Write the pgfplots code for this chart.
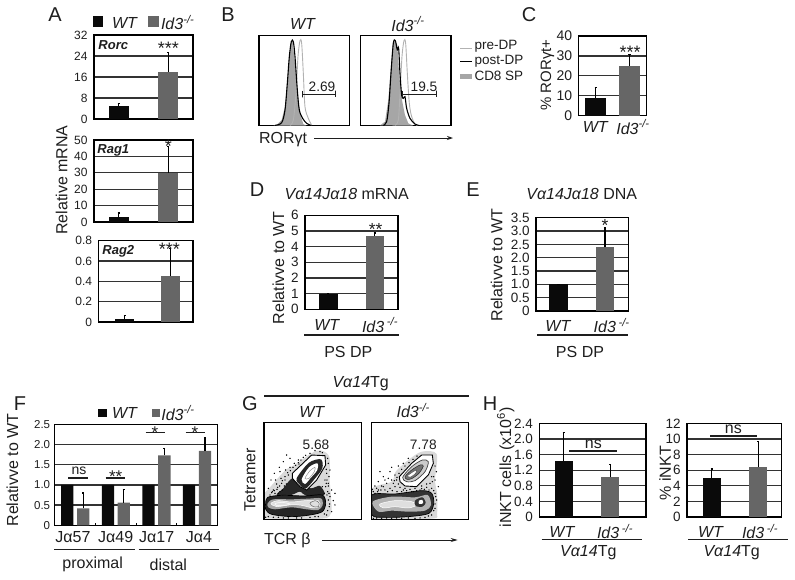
\documentclass[border=0pt]{standalone}
\usepackage{pgfplots}
\pgfplotsset{compat=1.18}
\usepackage{fontspec}
\setmainfont{Liberation Sans}
\usetikzlibrary{arrows.meta}
\definecolor{wtc}{HTML}{0A0A0A}
\definecolor{koc}{HTML}{666666}
\definecolor{txt}{HTML}{1E1E1E}
\definecolor{gridc}{HTML}{333333}
\newcommand\fs[1]{\fontsize{#1}{#1}\selectfont}
\newcommand\ido{\textit{Id3}\textsuperscript{\textit{-/-}}}
\newcommand\idos{\textit{Id3}\,\textsuperscript{\textit{-/-}}}
\newcommand\bars[4]{%
  \addplot[fill=wtc,draw=none,error bars/.cd,y dir=plus,y explicit,error bar style={black,line width=1.2pt},error mark options={rotate=90,black,mark size=1.1pt,line width=1.1pt}] coordinates {(0,#1) +- (0,#2)};
  \addplot[fill=koc,draw=none,error bars/.cd,y dir=plus,y explicit,error bar style={black,line width=1.2pt},error mark options={rotate=90,black,mark size=1.1pt,line width=1.1pt}] coordinates {(1,#3) +- (0,#4)};}
\pgfplotsset{
  panel/.style={scale only axis,anchor=south west,ymin=0,xtick=\empty,
    ymajorgrids,grid style={gridc,line width=1.25pt},
    axis line style={black,line width=1.3pt},
    ytick style={draw=none},ytick align=outside,
    yticklabel style={text=txt,inner sep=0pt,xshift=-2pt}},
  one/.style={panel,ybar,bar shift=0pt,bar width=#1,xmin=-0.5,xmax=1.5},
  hist/.style={scale only axis,anchor=south west,xtick=\empty,ytick=\empty,y dir=reverse,
    axis line style={black,line width=1.3pt},ymin=106,ymax=377},
  flow/.style={scale only axis,anchor=south west,xtick=\empty,ytick=\empty,y dir=reverse,
    axis line style={black,line width=1.2pt},ymin=128,ymax=418,axis on top},
  cd8/.style={fill=gray!70,draw=none},
  post/.style={black,line width=1.1pt,smooth,no marks},
  pre/.style={gray!60,line width=0.9pt,smooth,no marks},
  dots/.style={only marks,mark=*,mark size=0.45pt,black,mark options={draw=none,fill=black!90}},
}
\begin{document}
\begin{tikzpicture}
\useasboundingbox (0,0) rectangle (795pt,-579pt);
% ---------- A
\begin{axis}[one=20pt,at={(94pt,-119pt)},width=99pt,height=84pt,ymax=32,ytick={0,8,16,24,32},yticklabels={0,8,16,24,32},yticklabel style={font=\fs{12}}]
\bars{4.8}{1}{18}{7.3}
\end{axis}
\begin{axis}[one=20pt,at={(94pt,-222pt)},width=99pt,height=82pt,ymax=50,ytick={0,10,20,30,40,50},yticklabels={0,10,20,30,40,50},yticklabel style={font=\fs{12}}]
\bars{3.3}{2.2}{30}{16}
\end{axis}
\begin{axis}[one=19pt,at={(98.5pt,-322pt)},width=94.5pt,height=81.5pt,xmin=-0.58,xmax=1.5,ymax=0.8,ytick={0,0.2,0.4,0.6,0.8},yticklabels={0,0.2,0.4,0.6,0.8},yticklabel style={font=\fs{12}}]
\bars{0.03}{0.03}{0.45}{0.27}
\end{axis}
% ---------- B
\begin{axis}[hist,at={(259pt,-125.7pt)},width=90.3pt,height=90.4pt,xmin=57,xmax=328]
\addplot[cd8] coordinates {(100,377)(110,375)(125,360)(135,320)(142,240)(148,170)(153,125)(158,125)(165,190)(172,270)(180,340)(190,372)(200,377)} -- cycle;
\addplot[pre] coordinates {(150,376)(160,360)(168,280)(174,170)(180,122)(185,130)(190,220)(195,320)(205,355)(215,375)};
\addplot[post] coordinates {(105,376)(125,368)(135,330)(142,250)(148,170)(154,125)(160,125)(165,170)(172,270)(178,330)(188,355)(200,370)(213,376)};
\addplot[txt,line width=0.9pt] coordinates {(186,272)(186,292)(186,283)(285,283)(285,272)(285,292)};
\end{axis}
\begin{axis}[hist,at={(360.3pt,-125.7pt)},width=90.7pt,height=90.4pt,xmin=361,xmax=633]
\addplot[cd8] coordinates {(420,376)(435,365)(445,300)(452,210)(458,135)(465,122)(472,135)(478,230)(486,300)(495,345)(505,370)(520,377)} -- cycle;
\addplot[pre] coordinates {(465,376)(475,360)(480,280)(486,170)(492,122)(497,130)(502,220)(508,310)(515,350)(525,372)(535,377)};
\addplot[post] coordinates {(430,376)(440,365)(447,310)(453,220)(460,130)(466,122)(472,150)(476,145)(480,220)(485,285)(490,295)(495,290)(500,325)(510,355)(525,372)(540,377)};
\addplot[txt,line width=0.9pt] coordinates {(488,272)(488,292)(488,282)(589,282)(589,272)(589,292)};
\end{axis}
% ---------- C
\begin{axis}[panel,ybar,bar shift=0pt,bar width=21pt,at={(578.7pt,-115.7pt)},width=68pt,height=79.7pt,xmin=-0.503,xmax=1.509,ymax=40,ytick={0,10,20,30,40},yticklabels={0,10,20,30,40},yticklabel style={font=\fs{14}}]
\bars{9}{5}{25}{5.5}
\end{axis}
% ---------- D
\begin{axis}[one=18.5pt,at={(305pt,-309.3pt)},width=93pt,height=94pt,ymax=6,ytick={0,1,2,3,4,5,6},yticklabels={0,1,2,3,4,5,6},yticklabel style={font=\fs{13.5}}]
\bars{1}{0}{4.7}{0.17}
\end{axis}
% ---------- E
\begin{axis}[one=18.5pt,at={(536pt,-311pt)},width=92.3pt,height=93.3pt,xmin=-0.484,ymax=3.5,ytick={0,0.5,1,1.5,2,2.5,3,3.5},yticklabels={0,0.5,1.0,1.5,2.0,2.5,3.0,3.5},yticklabel style={font=\fs{13.5}}]
\bars{1}{0}{2.4}{0.72}
\end{axis}
% ---------- F
\begin{axis}[panel,ybar=3.6pt,bar width=12.3pt,at={(54.3pt,-525.3pt)},width=163.4pt,height=101pt,xmin=-0.517,xmax=3.51,ymax=2.5,ytick={0,0.5,1,1.5,2,2.5},yticklabels={0,0.5,1.0,1.5,2.0,2.5},yticklabel style={font=\fs{11.5}},xtick={0.5,1.5,2.5},xticklabels={},xtick pos=bottom,xtick align=inside,major tick length=2pt,xtick style={black,line width=0.6pt}]
\addplot[fill=wtc,draw=none] coordinates {(0,1)(1,1)(2,1)(3,1)};
\addplot[fill=koc,draw=none,error bars/.cd,y dir=plus,y explicit,error bar style={black,line width=1.2pt},error mark options={rotate=90,black,mark size=1.1pt,line width=1.1pt}] coordinates {(0,0.42) +- (0,0.38) (1,0.56) +- (0,0.32) (2,1.73) +- (0,0.17) (3,1.84) +- (0,0.33)};
\end{axis}
% ---------- G
\begin{axis}[flow,at={(264pt,-519.3pt)},width=97.3pt,height=96.6pt,xmin=87,xmax=379]
\addplot[fill=gray!30,draw=none,smooth cycle] coordinates {(88,345)(105,322)(150,272)(178,255)(245,212)(282,228)(284,300)(288,350)(288,400)(260,416)(100,416)(88,410)};
\addplot[dots] coordinates {(115,330)(128,322)(140,310)(150,300)(120,340)(135,335)(160,285)(148,318)(105,345)(112,335)(125,312)(138,295)(152,270)(165,262)(178,250)(190,240)(280,310)(290,330)(285,350)(278,335)(295,362)(283,380)(290,395)(275,405)(262,320)(270,300)(282,290)(255,215)(240,212)(205,232)(192,252)(100,325)(108,300)(118,280)(133,262)(145,245)(240,410)(200,414)(160,414)(130,412)(100,410)(92,412)(300,375)(300,340)(275,280)(285,270)(165,235)(155,225)(122,300)(135,275)(110,338)(118,332)(126,328)(134,318)(142,302)(150,290)(158,278)(166,272)(174,262)(182,256)(190,248)(130,340)(142,330)(154,312)(272,320)(276,345)(280,360)(284,372)(278,392)(268,402)(250,410)(225,412)(185,414)(145,414)(115,412)(274,310)(268,340)(282,340)(276,300)(280,318)(274,268)(280,250)(278,235)(262,218)(225,220)(212,226)(198,240)};
\addplot[fill=black!85,draw=none,smooth cycle] coordinates {(125,345)(145,325)(172,295)(200,315)(228,325)(255,318)(268,345)(215,348)(195,335)(168,345)};
\addplot[fill=black!85,draw=black,line width=0.7pt,smooth cycle] coordinates {(92,370)(98,352)(140,346)(210,348)(262,345)(272,370)(262,395)(225,405)(170,410)(110,403)(92,388)};
\addplot[fill=gray!70,draw=none,smooth cycle] coordinates {(98,370)(115,358)(170,358)(220,356)(258,355)(263,375)(250,390)(215,388)(170,382)(120,388)(100,382)};
\addplot[fill=gray!25,draw=white,line width=0.5pt,smooth cycle] coordinates {(108,370)(130,362)(170,366)(210,362)(250,362)(254,378)(235,384)(200,376)(170,374)(125,380)};
\addplot[draw=white,line width=0.5pt,smooth cycle] coordinates {(120,371)(140,367)(165,372)(150,376)(125,376)};
\addplot[draw=black!60,line width=0.5pt,smooth cycle] coordinates {(225,370)(240,362)(252,368)(250,380)(235,380)};
\addplot[draw=black,fill=white,line width=0.9pt] coordinates {(172,280)(230,225)(270,227)(272,255)(245,300)(215,330)(195,320)(172,295)} -- cycle;
\addplot[fill=black!85,draw=none,smooth cycle] coordinates {(185,295)(222,248)(258,238)(262,265)(238,298)(212,326)(195,315)};
\addplot[fill=white,draw=none,smooth cycle] coordinates {(200,298)(222,262)(247,250)(247,270)(226,295)(210,312)};
\addplot[draw=black!50,line width=0.4pt,smooth cycle] coordinates {(210,295)(225,272)(240,262)(238,275)(222,295)};
\end{axis}
\begin{axis}[flow,at={(371.3pt,-519.3pt)},width=97.4pt,height=96.6pt,xmin=409,xmax=701]
\addplot[fill=gray!30,draw=none,smooth cycle] coordinates {(410,328)(470,305)(482,275)(520,240)(560,215)(605,222)(600,300)(606,340)(606,400)(590,416)(410,416)};
\addplot[dots] coordinates {(415,335)(425,325)(440,318)(455,310)(470,300)(480,285)(465,275)(445,290)(430,305)(420,318)(450,330)(465,325)(480,320)(495,322)(510,325)(525,328)(540,325)(560,318)(575,322)(590,325)(600,340)(605,360)(600,385)(590,405)(570,412)(540,415)(500,415)(470,415)(440,415)(415,415)(475,310)(490,312)(505,330)(450,300)(435,275)(470,262)(490,258)(505,250)(520,235)(600,300)(610,320)(590,290)(585,310)(485,300)(460,295)(500,335)(535,335)(555,330)(430,330)(445,320)(420,340)(412,328)(428,335)(438,330)(458,335)(472,332)(486,335)(515,332)(545,332)(568,328)(582,330)(596,332)(602,350)(600,372)(596,392)(580,408)(555,414)(520,414)(485,414)(455,414)(425,414)(478,302)(486,292)(492,280)(500,268)(510,258)(522,248)(534,238)(546,228)(600,258)(604,275)(596,290)(592,305)(575,312)(560,326)(530,335)};
\addplot[fill=black!80,draw=black,line width=0.7pt,smooth cycle] coordinates {(411,345)(480,342)(560,332)(590,340)(596,370)(582,400)(520,410)(450,412)(411,405)};
\addplot[fill=gray!60,draw=none,smooth cycle] coordinates {(413,365)(470,350)(540,352)(578,345)(588,375)(570,392)(520,395)(470,392)(430,395)};
\addplot[fill=gray!25,draw=white,line width=0.5pt,smooth cycle] coordinates {(435,372)(480,362)(530,365)(545,375)(520,384)(480,380)(445,384)};
\addplot[fill=black!80,draw=none,smooth cycle] coordinates {(540,362)(562,352)(572,368)(562,380)(542,378)};
\addplot[fill=white,draw=none,smooth cycle] coordinates {(552,362)(562,360)(564,370)(552,372)};
\addplot[draw=black,fill=white,line width=0.9pt] coordinates {(493,290)(530,250)(560,225)(592,225)(595,250)(580,285)(545,320)(510,318)(495,305)} -- cycle;
\addplot[draw=black!75,fill=gray!40,line width=0.7pt,smooth cycle] coordinates {(503,292)(530,260)(562,240)(580,245)(570,275)(540,302)(515,305)};
\addplot[draw=black!85,fill=black!55,line width=0.5pt,smooth cycle] coordinates {(510,290)(530,270)(555,255)(565,258)(552,280)(530,296)(516,298)};
\addplot[draw=black!70,fill=white,line width=0.4pt,smooth cycle] coordinates {(517,288)(533,276)(545,270)(542,280)(527,291)};
\end{axis}
% ---------- H
\begin{axis}[panel,ybar,bar shift=0pt,bar width=18.3pt,at={(539.3pt,-517pt)},width=106.7pt,height=93.7pt,xmin=-0.528,xmax=1.771,ymax=2.4,ytick={0,0.4,0.8,1.2,1.6,2,2.4},yticklabels={0,0.4,0.8,1.2,1.6,2.0,2.4},yticklabel style={font=\fs{13.5}}]
\bars{1.43}{0.74}{1.02}{0.33}
\end{axis}
\begin{axis}[panel,ybar,bar shift=0pt,bar width=18pt,at={(687pt,-517pt)},width=94.7pt,height=93.7pt,xmin=-0.53,xmax=1.5,ymax=12,ytick={0,2,4,6,8,10,12},yticklabels={0,2,4,6,8,10,12},yticklabel style={font=\fs{13.5}}]
\bars{5}{1.15}{6.4}{3.3}
\end{axis}
% ---------- annotations (pixel coordinates)
\begin{scope}[x=1pt,y=-1pt,every node/.style={text=txt,inner sep=0pt,font=\fs{16}}]
% panel letters
\foreach \l/\x/\y in {A/55/15,B/228/15,C/529/15,D/257/190,E/473/190,F/20/404,G/250/404,H/490/404}
  \node[font=\fs{20}] at (\x,\y) {\l};
% A
\fill[wtc] (92.7,16) rectangle (103.3,26.7);
\fill[koc] (148.3,16) rectangle (159,26.7);
\node at (125,22.7) {\textit{WT}};
\node at (177.7,22.7) {\ido};
\node[rotate=90] at (61.7,180) {Relative mRNA};
\node[font=\fs{13}\bfseries\itshape] at (113.3,45) {Rorc};
\node[font=\fs{13}\bfseries\itshape] at (113.3,150) {Rag1};
\node[font=\fs{13}\bfseries\itshape] at (118.3,251.7) {Rag2};
\node[font=\fs{18}] at (168.3,48) {***};
\node[font=\fs{18}] at (168.3,146.5) {*};
\node[font=\fs{18}] at (169.3,249.5) {***};
% B
\node at (303,24) {\textit{WT}};
\node at (408,24) {\ido};
\node[font=\fs{13.7}] at (322,87) {2.69};
\node[font=\fs{13.7}] at (424,87) {19.5};
\draw[gray!60,line width=0.9pt] (460,48) -- (472,48);
\draw[black,line width=1.1pt] (460,61.5) -- (472,61.5);
\fill[gray!70] (460,74) rectangle (472,78.5);
\node[font=\fs{13.5},anchor=west] at (474.3,46.7) {pre-DP};
\node[font=\fs{13.5},anchor=west] at (474.3,61) {post-DP};
\node[font=\fs{13.5},anchor=west] at (474.3,75.5) {CD8 SP};
\node at (283,139.5) {RORγt};
\draw[txt,line width=0.9pt,-{Stealth[length=6pt,width=4pt]}] (314,138) -- (453,138);
% C
\node[rotate=90,font=\fs{15}] at (547.5,75) {\% RORγt+};
\node[font=\fs{18}] at (630,52) {***};
\node at (595.7,127) {\textit{WT}};
\node at (633,127) {\ido};
% D
\node at (346.7,194) {\textit{Vα14Jα18} mRNA};
\node[rotate=90] at (278.3,267.7) {Relativve to WT};
\node[font=\fs{17.5}] at (375.7,229) {**};
\node at (327.3,325) {\textit{WT}};
\node at (380,325) {\idos};
\draw[txt,line width=1.1pt] (304.3,335) -- (399,335);
\node at (348.3,351.7) {PS DP};
% E
\node at (581.7,194) {\textit{Vα14Jα18} DNA};
\node[rotate=90] at (496.7,265) {Relativve to WT};
\node[font=\fs{17.5}] at (605,225.5) {*};
\node at (558.3,325.7) {\textit{WT}};
\node at (611.7,325.7) {\idos};
\draw[txt,line width=1.1pt] (537.3,335) -- (628.3,335);
\node at (580,351.7) {PS DP};
% F
\fill[wtc] (98.3,409) rectangle (106.7,417);
\fill[koc] (151.7,409) rectangle (160,417);
\node at (125,413.3) {\textit{WT}};
\node at (178,413) {\ido};
\node[rotate=90] at (12.3,470) {Relativve to WT};
\node at (73,536.7) {Jα57};
\node at (115.7,536.7) {Jα49};
\node at (156.7,536.7) {Jα17};
\node at (199,536.7) {Jα4};
\draw[txt,line width=1.1pt] (54.3,549.3) -- (135,549.3);
\draw[txt,line width=1.1pt] (138.7,549.3) -- (219.3,549.3);
\node at (92.7,564.3) {proximal};
\node at (168.3,565) {distal};
\draw[txt,line width=1.1pt] (68.3,478) -- (87.7,478);
\node[font=\fs{14}] at (79,471) {ns};
\draw[txt,line width=1.1pt] (105.7,478) -- (125,478);
\node[font=\fs{17}] at (115.7,477) {**};
\draw[txt,line width=1.1pt] (145.7,432.7) -- (165,432.7);
\node[font=\fs{17}] at (155,432.5) {*};
\draw[txt,line width=1.1pt] (185.7,432.7) -- (205,432.7);
\node[font=\fs{17}] at (195,432.5) {*};
% G
\node at (360.7,384) {\textit{Vα14}Tg};
\draw[txt,line width=1.1pt] (264.3,396) -- (468.7,396);
\node at (312.3,412.3) {\textit{WT}};
\node at (413.3,410.7) {\ido};
\node[rotate=90] at (250,480) {Tetramer};
\node at (287.3,540) {TCR β};
\draw[txt,line width=0.9pt,-{Stealth[length=7pt,width=4pt]}] (322.3,540) -- (457.7,540);
\node[font=\fs{13.7}] at (316,445) {5.68};
\node[font=\fs{13.7}] at (423.3,445) {7.78};
% H
\node[rotate=90] at (505.7,467.3) {iNKT cells (x10\textsuperscript{6})};
\draw[txt,line width=1.1pt] (569.3,451) -- (617,451);
\node at (593.3,444.3) {ns};
\node at (562.3,531.7) {\textit{WT}};
\node at (615,531.7) {\idos};
\draw[txt,line width=1.1pt] (541.7,539.7) -- (641.7,539.7);
\node at (588.3,552.7) {\textit{Vα14}Tg};
\node[rotate=90] at (665,473.3) {\% iNKT};
\draw[txt,line width=1.1pt] (710,436) -- (757.3,436);
\node at (733.3,429.3) {ns};
\node at (711,531.7) {\textit{WT}};
\node at (760,531.7) {\idos};
\draw[txt,line width=1.1pt] (688.3,539.7) -- (788.3,539.7);
\node at (731.7,552.7) {\textit{Vα14}Tg};
\end{scope}
\end{tikzpicture}
\end{document}
